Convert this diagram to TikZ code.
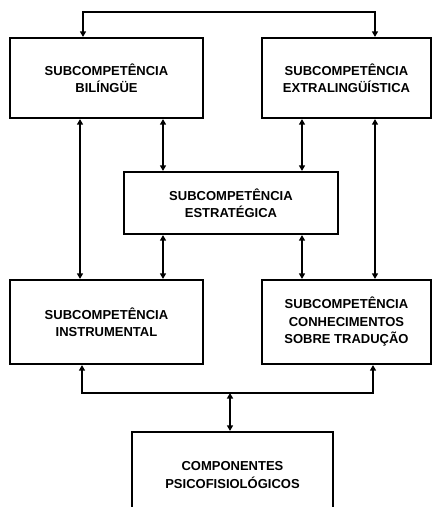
\documentclass[tikz,border=0pt]{standalone}
\usepackage{fontspec}
\setmainfont{Liberation Sans}
\usetikzlibrary{arrows.meta}
\begin{document}
\begin{tikzpicture}[x=1pt,y=1pt,
  box/.style={draw=black, line width=2.2pt, fill=white, inner sep=0pt,
    align=center, font=\bfseries\fontsize{13}{17.5}\selectfont},
  link/.style={line width=1.3pt, {Triangle[length=5.5pt,width=6pt]}-{Triangle[length=5.5pt,width=6pt]}}
]
  \fill[white] (0,0) rectangle (435,-507);
  \clip (0,0) rectangle (435,-507);

  % the six blocks
  \node[box, minimum width=193pt, minimum height=80pt] (bil) at (106.5,-78)
    {SUBCOMPETÊNCIA\\BILÍNGÜE};
  \node[box, minimum width=169pt, minimum height=80pt] (ext) at (346.5,-78)
    {SUBCOMPETÊNCIA\\EXTRALINGÜÍSTICA};
  \node[box, minimum width=214pt, minimum height=62pt] (est) at (231,-203)
    {SUBCOMPETÊNCIA\\ESTRATÉGICA};
  \node[box, minimum width=193pt, minimum height=84pt] (ins) at (106.5,-322)
    {SUBCOMPETÊNCIA\\INSTRUMENTAL};
  \node[box, minimum width=169pt, minimum height=84pt] (con) at (346.5,-322)
    {SUBCOMPETÊNCIA\\CONHECIMENTOS\\SOBRE TRADUÇÃO};
  \node[box, minimum width=201pt, minimum height=86pt] (psi) at (232.5,-475)
    {COMPONENTES\\PSICOFISIOLÓGICOS};

  % column positions of the vertical links
  \coordinate (cA) at (80,0);
  \coordinate (cB) at (163,0);
  \coordinate (cC) at (302,0);
  \coordinate (cD) at (375,0);

  % top bus
  \coordinate (topL) at (83,-12);
  \coordinate (topR) at (375,-12);
  \draw[link] (bil.north -| topL) -- (topL) -- (topR) -- (ext.north -| topR);

  % links between the blocks
  \draw[link] (bil.south -| cA) -- (ins.north -| cA);
  \draw[link] (bil.south -| cB) -- (est.north -| cB);
  \draw[link] (est.south -| cB) -- (ins.north -| cB);
  \draw[link] (ext.south -| cC) -- (est.north -| cC);
  \draw[link] (est.south -| cC) -- (con.north -| cC);
  \draw[link] (ext.south -| cD) -- (con.north -| cD);

  % bottom bus
  \coordinate (botL) at (82,-393);
  \coordinate (botR) at (373,-393);
  \coordinate (botM) at (230,-393);
  \draw[link] (ins.south -| botL) -- (botL) -- (botR) -- (con.south -| botR);
  \draw[link] (botM) -- (psi.north -| botM);
\end{tikzpicture}
\end{document}
